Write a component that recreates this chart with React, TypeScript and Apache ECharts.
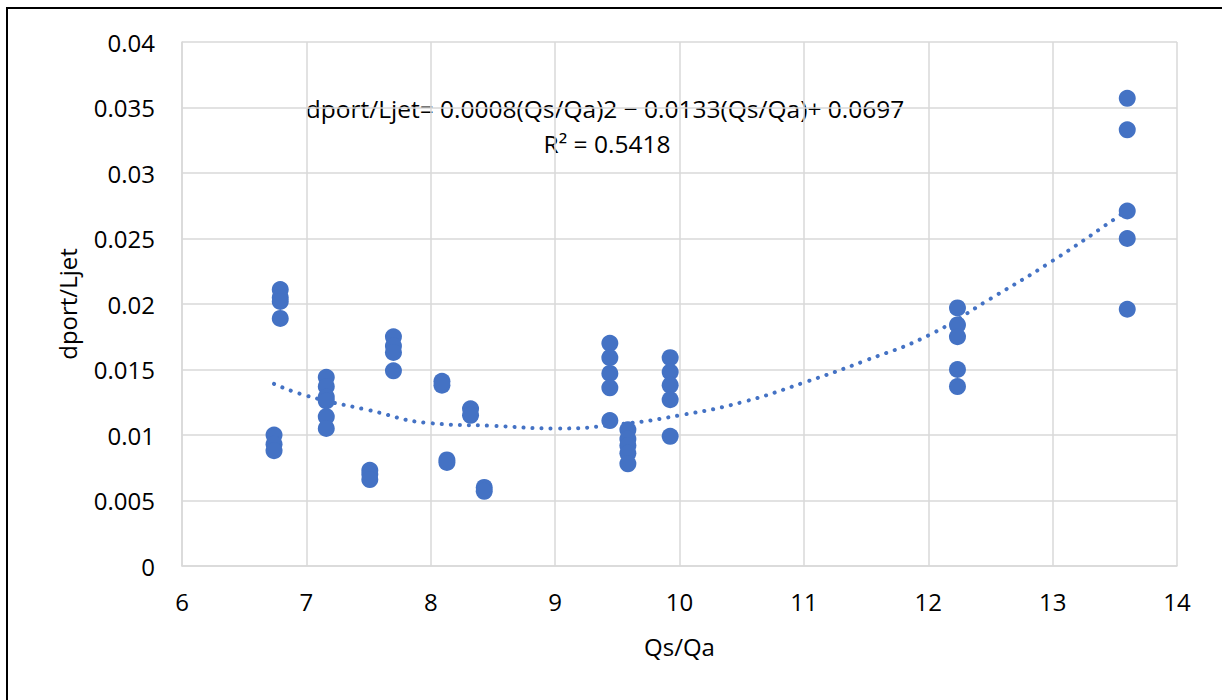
import React, { useEffect, useRef } from "react";
import * as echarts from "echarts";

const xTicks = [6, 7, 8, 9, 10, 11, 12, 13, 14];
const yTicks = [0, 0.005, 0.01, 0.015, 0.02, 0.025, 0.03, 0.035, 0.04];

// measured points, grouped by Qs/Qa value
const groupX = [6.74, 6.79, 7.16, 7.51, 7.7, 8.09, 8.13, 8.32, 8.43, 9.44, 9.585, 9.925, 12.235, 13.6];
const groupY = [
  [0.01, 0.0093, 0.0088],
  [0.0211, 0.0205, 0.0202, 0.0189],
  [0.0144, 0.0137, 0.0129, 0.0126, 0.0114, 0.0105],
  [0.0073, 0.007, 0.0066],
  [0.0175, 0.0168, 0.0163, 0.0149],
  [0.0141, 0.0138],
  [0.0081, 0.0079],
  [0.012, 0.0115],
  [0.006, 0.0057],
  [0.017, 0.0159, 0.0147, 0.0136, 0.0111],
  [0.0104, 0.0097, 0.0092, 0.0086, 0.0078],
  [0.0159, 0.0148, 0.0138, 0.0127, 0.0099],
  [0.0197, 0.0184, 0.0175, 0.015, 0.0137],
  [0.0357, 0.0333, 0.0271, 0.025, 0.0196],
];

// trendline
const trendX = [6.74, 7, 7.5, 8, 8.5, 9, 9.5, 10, 10.5, 11, 11.5, 12, 12.5, 13, 13.5, 13.6];
const trendY = [0.0139, 0.013, 0.0119, 0.0109, 0.0107, 0.0105, 0.0108, 0.0115, 0.0125, 0.014, 0.0157, 0.0176, 0.0204, 0.0233, 0.0265, 0.0272];

const equationText = "dport/Ljet= 0.0008(Qs/Qa)2 − 0.0133(Qs/Qa)+ 0.0697";
const r2Text = "R² = 0.5418";
const xName = "Qs/Qa";
const yName = "dport/Ljet";

const FONT = "'Open Sans', 'Noto Sans', sans-serif";
const BLUE = "#4472C4";
const GRID = "#d9d9d9";
const FS = 24;

export default function App() {
  const ref = useRef<HTMLDivElement>(null);
  useEffect(() => {
    if (!ref.current) return;
    const chart = echarts.init(ref.current, null, { renderer: "svg" });
    const points: number[][] = [];
    groupX.forEach((x, i) => groupY[i].forEach((y) => points.push([x, y])));
    const trend = trendX.map((x, i) => [x, trendY[i]]);
    chart.setOption({
      animation: false,
      backgroundColor: "#ffffff",
      grid: { left: 182, top: 42, right: 45, bottom: 134 },
      xAxis: {
        type: "value",
        min: xTicks[0],
        max: xTicks[xTicks.length - 1],
        interval: 1,
        name: xName,
        nameLocation: "middle",
        nameGap: 68,
        nameTextStyle: { fontFamily: FONT, fontSize: FS, color: "#000" },
        axisLine: { show: true, lineStyle: { color: GRID, width: 1.5 } },
        axisTick: { show: false },
        axisLabel: { fontFamily: FONT, fontSize: FS, color: "#000", margin: 23 },
        splitLine: { show: true, lineStyle: { color: GRID, width: 1.5 } },
      },
      yAxis: {
        type: "value",
        min: yTicks[0],
        max: yTicks[yTicks.length - 1],
        interval: 0.005,
        name: yName,
        nameLocation: "middle",
        nameGap: 103,
        nameTextStyle: { fontFamily: FONT, fontSize: FS, color: "#000" },
        axisLine: { show: true, lineStyle: { color: GRID, width: 1.5 } },
        axisTick: { show: false },
        axisLabel: { fontFamily: FONT, fontSize: FS, color: "#000", margin: 27 },
        splitLine: { show: true, lineStyle: { color: GRID, width: 1.5 } },
      },
      series: [
        {
          type: "line",
          data: trend,
          smooth: true,
          showSymbol: false,
          symbol: "none",
          z: 1,
          lineStyle: { color: BLUE, width: 4, type: [0.1, 9], cap: "round" },
        },
        {
          type: "scatter",
          data: points,
          symbolSize: 17,
          z: 2,
          itemStyle: { color: BLUE, opacity: 1 },
        },
      ],
      graphic: [
        {
          type: "rect",
          shape: { x: 7, y: 8, width: 1400, height: 900 },
          style: { fill: "none", stroke: "#000", lineWidth: 2 },
          silent: true,
        },
        {
          type: "text",
          x: 605,
          y: 108,
          style: {
            text: equationText,
            fontFamily: FONT,
            fontSize: 24.5,
            fill: "#000",
            textAlign: "center",
            textVerticalAlign: "middle",
          },
        },
        {
          type: "text",
          x: 607,
          y: 143,
          style: {
            text: r2Text,
            fontFamily: FONT,
            fontSize: 24.5,
            fill: "#000",
            textAlign: "center",
            textVerticalAlign: "middle",
          },
        },
      ],
    });
    return () => chart.dispose();
  }, []);
  return (
    <div
      ref={ref}
      style={{ position: "fixed", left: 0, top: 0, width: 1222, height: 700 }}
    />
  );
}
